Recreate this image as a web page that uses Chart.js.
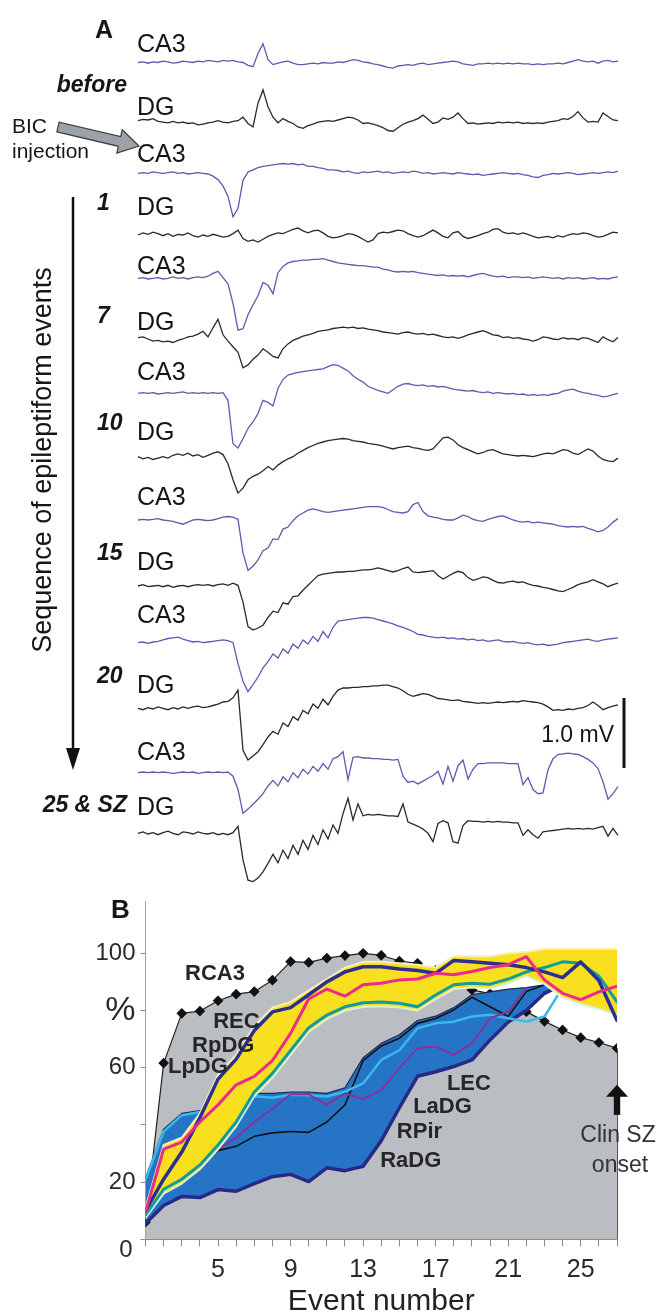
<!DOCTYPE html>
<html>
<head>
<meta charset="utf-8">
<script src="https://cdn.jsdelivr.net/npm/chart.js@4.4.1/dist/chart.umd.min.js"></script>
<style>
  html, body { margin: 0; padding: 0; background: #fff; overflow: hidden; }
  #wrap { position: relative; width: 657px; height: 1314px; }
  #traces { position: absolute; left: 0; top: 0; }
  #summary { position: absolute; left: 0; top: 880px; }
</style>
</head>
<body>
<div id="wrap">
  <canvas id="traces" width="657" height="890"></canvas>
  <canvas id="summary" width="657" height="442"></canvas>
</div>
<script>
const FONT = '"Liberation Sans", Arial, Helvetica, sans-serif';

// ---- Panel A: field potentials (mV, relative to each trace's resting level) ----
const ca3Before = [0,.01,-.01,.01,0,.02,.01,-.01,0,.02,
  .01,0,.02,.01,.03,.02,.01,.03,.02,.03,
  .01,0,-.04,-.06,.13,.27,.04,-.03,-.01,.01,
  .02,-.01,-.03,-.03,-.02,-.01,-.02,0,-.01,-.01,
  .01,0,.02,.04,.03,.01,0,-.02,-.03,-.05,
  -.07,-.08,-.05,-.04,-.03,-.04,-.02,-.01,-.03,-.02,
  -.01,0,.01,.02,.01,-.02,-.03,-.04,-.02,-.02,
  -.01,-.02,-.01,-.02,-.01,-.02,-.01,-.02,-.02,-.03,
  -.02,-.03,-.02,-.02,-.01,-.02,0,.02,.04,.02,
  .01,.02,-.01,.02,.03,.01,.02];
const dgBefore = [0,.02,.01,.03,-.01,-.02,-.03,-.01,-.03,-.02,
  -.04,-.03,-.06,-.05,-.03,-.02,0,-.02,-.03,-.01,
  0,.05,-.04,-.09,.25,.44,.2,.05,-.03,.03,
  -.01,-.04,-.09,-.11,-.07,-.05,-.02,-.01,0,-.01,
  .01,.03,.05,.04,.01,-.04,-.03,-.05,-.07,-.1,
  -.14,-.15,-.1,-.05,-.02,0,.03,.08,.02,-.04,
  -.02,.04,.02,.05,.11,.03,-.04,-.03,-.05,-.04,
  -.03,-.04,-.02,-.03,-.02,-.03,-.02,-.04,-.03,-.04,
  -.03,-.04,-.02,-.01,0,.03,.02,.06,.13,.04,
  -.02,-.01,-.02,.11,.06,.01,0];
const ca3Event1 = [0,.01,0,.02,.01,0,.01,.02,0,.01,
  -.01,0,.01,0,-.01,-.04,-.09,-.18,-.33,-.62,
  -.5,-.1,.02,.05,.08,.1,.11,.12,.13,.14,
  .13,.14,.12,.13,.1,.1,.08,.07,.05,.05,
  .04,.02,.03,.01,0,.02,.01,.02,.03,.01,
  .02,0,.01,.02,.01,.03,.02,0,.01,-.01,
  0,.01,0,-.01,.01,0,-.01,-.02,-.01,-.03,
  -.02,-.01,0,.01,0,-.01,0,-.02,-.03,-.05,
  -.06,-.03,-.02,0,-.01,0,.01,0,-.02,-.01,
  0,.01,0,.01,.02,.01,.03];
const dgEvent1 = [0,.03,.01,.04,.02,-.01,.02,-.02,.01,0,
  .03,-.01,-.03,0,-.02,.01,-.01,-.03,-.02,.02,
  .07,-.05,-.09,-.07,-.1,-.06,-.02,.01,.03,.02,
  .05,.08,.1,.06,.03,.06,.07,.03,-.02,-.04,
  -.03,-.01,.02,.01,-.02,-.06,-.1,-.07,.02,.04,
  .03,.05,.07,.06,.02,-.01,-.03,-.01,.03,.07,
  .03,-.02,-.04,.03,.05,-.02,-.05,-.03,-.01,.02,
  .04,.08,.09,.04,.02,.03,.01,.03,.01,-.02,
  -.04,-.03,-.02,-.04,-.01,-.03,0,.02,.01,.03,
  .02,-.01,-.03,-.02,.01,.04,.03];
const ca3Event7 = [0,.01,-.01,0,.01,-.01,0,.02,0,.01,
  -.01,.01,.02,.01,.03,.07,.1,.01,-.08,-.36,
  -.74,-.72,-.52,-.38,-.25,-.06,-.1,-.22,.08,.17,
  .22,.24,.25,.26,.26,.27,.27,.28,.26,.24,
  .22,.21,.2,.19,.18,.18,.17,.16,.16,.13,
  .12,.1,.09,.1,.09,.1,.08,.07,.06,.05,
  .04,.05,.03,.04,.03,.04,.02,.04,.06,.07,
  .05,.03,.02,.03,.01,.02,.02,.01,.02,0,
  .01,.02,.01,0,.01,-.01,.01,0,.01,-.01,
  0,.01,-.01,0,-.01,.01,.02];
const dgEvent7 = [.01,.02,-.01,-.04,-.03,-.05,-.04,-.06,-.03,-.01,
  .02,.03,.06,.1,.02,.15,.27,.05,-.04,-.12,
  -.2,-.42,-.38,-.3,-.24,-.15,-.2,-.26,-.28,-.15,
  -.08,-.03,0,.03,.05,.07,.1,.11,.12,.14,
  .15,.16,.15,.16,.14,.15,.13,.12,.11,.09,
  .08,.07,.06,.08,.09,.07,.06,.07,.05,.06,
  .04,.02,.01,.02,0,.02,.05,.07,.09,.11,
  .08,.05,.04,.01,.02,0,.01,-.01,-.02,-.04,
  -.02,.02,.01,-.01,-.02,.01,-.01,0,-.02,.01,
  0,-.03,-.06,.02,-.02,-.05,.01];
const ca3Event10 = [0,.01,0,.01,-.01,0,.01,0,.01,.02,
  0,.01,0,.01,0,.01,0,.01,-.1,-.72,
  -.78,-.65,-.5,-.41,-.29,-.1,-.13,-.18,.07,.2,
  .26,.28,.3,.31,.32,.33,.34,.35,.38,.41,
  .4,.36,.32,.25,.2,.16,.1,.07,.04,.02,
  0,.05,.1,.13,.14,.12,.11,.12,.1,.11,
  .09,.1,.08,.06,.05,.04,.03,.04,.02,.01,
  .02,0,.01,0,-.01,0,-.02,-.01,-.03,-.02,
  -.03,-.02,-.03,-.01,0,.03,.05,.06,.03,.01,
  0,-.02,-.03,-.05,-.04,-.02,0];
const dgEvent10 = [0,-.03,-.01,-.04,-.02,0,-.02,.02,.04,.02,
  .05,.01,.03,-.01,.02,.05,.07,.03,-.1,-.33,
  -.52,-.45,-.33,-.28,-.25,-.2,-.14,-.19,-.12,-.07,
  -.03,0,.05,.09,.13,.16,.19,.21,.23,.24,
  .25,.26,.25,.23,.22,.21,.19,.18,.17,.15,
  .13,.11,.13,.14,.15,.13,.12,.1,.09,.11,
  .19,.27,.28,.24,.17,.13,.1,.07,.04,.06,
  .09,.1,.07,.04,.03,.02,.01,.02,.01,0,
  .02,.04,.05,.04,.07,.1,.09,.05,.03,.07,
  .11,.08,.01,-.04,-.06,-.07,-.02];
const ca3Event15 = [0,.01,0,.01,.02,0,-.01,-.02,-.04,-.06,
  -.03,0,.01,0,-.01,0,.02,.04,.05,.04,
  .01,-.47,-.72,-.66,-.57,-.44,-.4,-.27,-.28,-.13,
  -.1,-.01,.06,.1,.14,.16,.14,.12,.11,.12,
  .13,.14,.15,.16,.17,.18,.19,.19,.19,.18,
  .15,.12,.11,.1,.12,.22,.25,.12,.06,.04,
  .03,.01,0,0,.03,.07,.05,.01,-.01,-.02,
  .01,.03,.05,.06,.03,0,-.02,-.03,-.02,-.04,
  -.03,-.04,-.05,-.06,-.08,-.09,-.1,-.09,-.1,-.09,
  -.12,-.14,-.17,-.15,-.1,-.03,.02];
const dgEvent15 = [0,.02,-.01,0,.01,-.01,.01,-.02,0,.01,
  -.01,.01,.02,.01,.02,0,.02,.03,.01,.04,
  .01,-.23,-.58,-.63,-.6,-.56,-.45,-.36,-.38,-.24,
  -.26,-.15,-.14,-.06,.01,.08,.15,.17,.18,.19,
  .2,.2,.21,.21,.22,.23,.23,.24,.26,.24,
  .22,.2,.22,.25,.27,.2,.19,.2,.21,.22,
  .15,.1,.14,.18,.21,.19,.12,.08,.1,.13,
  .12,.08,.05,.04,.06,.07,.05,.06,.03,.01,
  0,-.02,-.03,-.05,-.07,-.08,-.05,-.02,.02,.04,
  .06,.09,.06,.03,-.01,.02,.04];
const ca3Event20 = [0,.01,-.01,.01,.02,.04,.06,.07,.08,.05,
  .03,.01,.02,0,.01,.02,.03,.04,.03,0,
  -.3,-.55,-.7,-.6,-.49,-.36,-.27,-.16,-.22,-.09,
  -.15,-.02,-.08,.04,-.02,.09,.02,.16,.07,.22,
  .31,.32,.33,.34,.35,.36,.36,.35,.33,.31,
  .29,.27,.24,.22,.19,.16,.12,.11,.09,.08,
  .07,.08,.06,.07,.05,.06,.04,.05,.03,.04,
  .02,.03,.04,.02,.01,.02,0,-.01,0,-.02,
  -.03,-.02,-.04,-.03,-.02,0,.01,.02,.03,.04,
  .05,.03,.02,.04,.05,.06,.07];
const dgEvent20 = [0,-.02,.01,-.01,.02,0,-.02,.01,-.01,.02,
  0,.02,.03,.01,.02,.04,.06,.09,.1,.15,
  .26,-.6,-.74,-.68,-.62,-.52,-.41,-.33,-.37,-.21,
  -.26,-.12,-.17,-.03,-.08,.06,0,.13,.05,.17,
  .26,.29,.29,.3,.3,.31,.31,.32,.32,.33,
  .33,.31,.29,.25,.2,.17,.19,.21,.2,.17,
  .14,.13,.12,.11,.12,.1,.09,.08,.07,.08,
  .07,.08,.09,.08,.09,.1,.09,.11,.1,.09,
  .08,.06,.02,-.03,-.02,-.03,-.01,-.02,0,.01,
  .04,.09,.04,-.02,.01,.03,.05];
const ca3Event25 = [0,.01,0,.01,0,.01,0,-.01,0,.01,
  0,.01,-.01,0,.01,0,.01,0,.01,-.05,
  -.24,-.58,-.52,-.45,-.38,-.3,-.19,-.11,-.19,-.06,
  -.13,0,-.07,.05,-.02,.09,.02,.13,.05,.2,
  .23,.3,-.1,.22,.23,.21,.21,.2,.2,.19,
  .19,.18,.19,-.05,-.14,-.12,-.16,-.12,-.08,-.04,
  .02,-.16,.09,-.12,.1,.18,-.09,.05,.13,.13,
  .14,.14,.14,.14,.13,.13,.13,-.17,-.07,-.24,
  -.3,-.29,.04,.2,.26,.27,.28,.27,.26,.23,
  .19,.14,.06,-.13,-.38,-.3,-.2];
const dgEvent25 = [0,.02,-.01,.01,-.02,.01,.03,0,-.02,.02,
  .01,-.01,.02,0,-.01,.01,-.02,0,-.02,.01,
  .1,-.38,-.67,-.69,-.64,-.55,-.43,-.3,-.42,-.24,
  -.36,-.17,-.3,-.1,-.23,-.03,-.16,.05,-.08,.12,
  0,.28,.5,.19,.42,.25,.27,.26,.27,.26,
  .25,.25,.24,.42,.16,.13,.1,.06,0,-.12,
  .14,.18,.15,-.12,-.14,.11,.18,.17,.17,.16,
  .17,.16,.17,.16,.16,.15,.15,-.03,.05,-.02,
  -.07,.02,.03,.04,.05,.06,.07,.06,.07,.06,
  .07,.06,.08,.1,-.04,.07,-.03];

const eventLabels = ['before', '1', '7', '10', '15', '20', '25 & SZ'];
const channelNames = ['CA3', 'DG'];
const scaleBarMv = 1.0;

// ---- Panel B: % of recording sites involved, per epileptiform event ----
const eventTickSlots = [4, 8, 12, 16, 20, 24];
const eventTickLabels = ['5', '9', '13', '17', '21', '25'];
const yTickLabels = { 20: '20', 60: '60', 80: '%', 100: '100' };

const rca3 = [6, 61.6, 79, 79.8, 83.4, 85.7, 86.6, 90.6, 97.1, 96.8, 98.3, 99.2, 100, 99.3, 97.3, 96.5, 94, 89, 87.2, 85.9, 83, 79.6, 76.2, 73.2, 70.5, 68.8, 66.8];
const rec = [10, 21, 30.5, 42.5, 56, 63, 73, 79.5, 81, 85.5, 90, 93.5, 95.3, 95.3, 94.5, 94, 93, 97.5, 97, 96.5, 96, 95, 93.5, 91.5, 97, 90.5, 76.5];
const rpdg = [9.5, 31.5, 34, 41, 47, 54, 57, 62.5, 72, 84, 87.5, 85, 89, 89.5, 90.7, 91, 93, 92.5, 93.6, 95, 96, 98.8, 90.7, 86, 83.8, 86.5, 88.5];
const lpdg = [8.5, 17.5, 21, 26, 33, 41, 51.5, 58, 66, 74, 78.4, 81.3, 82.7, 83, 82.5, 81.3, 85.4, 89, 89.5, 89.2, 91, 93.5, 95, 97, 96.5, 92, 83];
const pdgBandTop = [11, 33, 35.5, 44, 57.5, 64.5, 74.5, 81, 83, 87, 91, 95, 97, 97, 96.5, 96, 95, 99, 99, 99, 100, 100.5, 101.5, 101.5, 101.5, 101.5, 101.5];
const pdgBandBottom = [7.5, 16, 19.5, 24.5, 31.5, 39.5, 50, 56.5, 64.5, 72.5, 77, 80, 81.2, 81.5, 81, 80, 84, 87.5, 88, 87.7, 89.5, 92, 89.2, 84.5, 82.3, 80.5, 78.5];
const lec = [20.8, 37.7, 43.4, 44.5, 46, 47.5, 50, 49.5, 50.5, 50.4, 49.9, 51.6, 54.5, 62.7, 66.1, 73.8, 75.5, 76.1, 77.9, 78.5, 77.3, 76.1, 77.9, 88, null, null, null];
const ladg = [null, null, null, 26, 31.5, 35.5, 41, 45.6, 50.7, 50.7, 47, 51, 49, 52.2, 59.8, 66.8, 67.4, 64.5, 68.5, 77.3, 79.5, 88, null, null, null, null, null];
const rpir = [null, null, null, 26, 31, 32.5, 36, 37.2, 37.7, 37.4, 41, 47, 62.5, 67.6, 70.3, 75.5, 77.2, 80.2, 84.6, 81.3, 77.9, 86.6, 89, null, null, null, null];
const radg = [5.5, 11.8, 15, 14.6, 17.4, 16.8, 19.5, 21.9, 22.7, 20.2, 25, 24, 25.5, 34.5, 46, 57, 58.6, 60.4, 62.7, 69.7, 76, 80, 86, 89, null, null, null];
const adgBandTop = [21.5, 38.5, 44, 45, 47, 48.5, 51, 51, 51.5, 51.5, 51, 53, 63.5, 68.5, 71.5, 76.5, 78, 81, 85.5, 86.5, 87.5, 88, 89, 89, null, null, null];

const clinOnsetEvent = 26;

// ---------------- Panel A chart ----------------
const PX_PER_MV = 70;
const traceCanvas = document.getElementById('traces');
const traceSeries = [ca3Before, dgBefore, ca3Event1, dgEvent1, ca3Event7, dgEvent7, ca3Event10, dgEvent10,
  ca3Event15, dgEvent15, ca3Event20, dgEvent20, ca3Event25, dgEvent25];
// resting row of each trace on the page (px from the top)
const traceRows = [62.5, 120.7, 173.3, 235, 278.3, 338.3, 393.3, 456.7, 520, 586, 642.7, 708.3, 772.7, 833.3];
const channelLabelRows = [52, 115, 162, 215, 274, 330, 380, 440, 505, 570, 623, 693, 760, 815];
const eventLabelRows = [92, 210, 323, 430, 560, 683, 812];

const traceDatasets = traceSeries.map((vals, t) => {
  const rest = -traceRows[t] / PX_PER_MV;
  return {
    data: vals.map((v, k) => ({ x: k / (vals.length - 1), y: rest + v })),
    borderColor: t % 2 === 0 ? '#5b5cae' : '#2a2a2a',
    borderWidth: 1.3,
    pointRadius: 0,
    tension: 0,
    clip: false,
  };
});

const traceDecor = {
  id: 'traceDecor',
  afterDraw(chart) {
    const { ctx } = chart;
    const yScale = chart.scales.y;
    ctx.save();
    ctx.fillStyle = '#161616';
    ctx.textBaseline = 'alphabetic';

    ctx.font = `bold 25px ${FONT}`;
    ctx.fillText('A', 95, 38);

    ctx.font = `25px ${FONT}`;
    channelLabelRows.forEach((row, i) => ctx.fillText(channelNames[i % 2], 137, row));

    ctx.font = `italic bold 23px ${FONT}`;
    eventLabels.forEach((txt, i) => {
      const wide = txt.length > 2;
      ctx.textAlign = wide ? 'right' : 'left';
      ctx.fillText(txt, wide ? 127 : 97, eventLabelRows[i]);
    });
    ctx.textAlign = 'left';

    ctx.font = `21px ${FONT}`;
    ctx.fillText('BIC', 12, 133);
    ctx.fillText('injection', 12, 158);

    // BIC injection arrow
    const tail = [58, 127], tip = [139, 146];
    const dx = tip[0] - tail[0], dy = tip[1] - tail[1];
    const len = Math.hypot(dx, dy);
    const ux = dx / len, uy = dy / len, nx = -uy, ny = ux;
    const neck = [tip[0] - ux * 20, tip[1] - uy * 20];
    const sw = 5, hw = 12;
    ctx.beginPath();
    ctx.moveTo(tail[0] + nx * sw, tail[1] + ny * sw);
    ctx.lineTo(neck[0] + nx * sw, neck[1] + ny * sw);
    ctx.lineTo(neck[0] + nx * hw, neck[1] + ny * hw);
    ctx.lineTo(tip[0], tip[1]);
    ctx.lineTo(neck[0] - nx * hw, neck[1] - ny * hw);
    ctx.lineTo(neck[0] - nx * sw, neck[1] - ny * sw);
    ctx.lineTo(tail[0] - nx * sw, tail[1] - ny * sw);
    ctx.closePath();
    ctx.fillStyle = '#9da2a9';
    ctx.fill();
    ctx.strokeStyle = '#3c3c3c';
    ctx.lineWidth = 1.2;
    ctx.stroke();

    // sequence arrow
    ctx.strokeStyle = '#111';
    ctx.lineWidth = 2.5;
    ctx.beginPath();
    ctx.moveTo(73, 197);
    ctx.lineTo(73, 752);
    ctx.stroke();
    ctx.fillStyle = '#111';
    ctx.beginPath();
    ctx.moveTo(66, 748);
    ctx.lineTo(80, 748);
    ctx.lineTo(73, 770);
    ctx.closePath();
    ctx.fill();

    ctx.save();
    ctx.translate(44, 460);
    ctx.rotate(-Math.PI / 2);
    ctx.font = `27px ${FONT}`;
    ctx.textAlign = 'center';
    ctx.textBaseline = 'middle';
    ctx.fillStyle = '#161616';
    ctx.fillText('Sequence of epileptiform events', 0, 0);
    ctx.restore();

    // 1.0 mV calibration bar
    const barBottom = 768;
    const barTop = yScale.getPixelForValue(yScale.getValueForPixel(barBottom) + scaleBarMv);
    ctx.strokeStyle = '#111';
    ctx.lineWidth = 3;
    ctx.beginPath();
    ctx.moveTo(624, barTop);
    ctx.lineTo(624, barBottom);
    ctx.stroke();
    ctx.font = `23px ${FONT}`;
    ctx.textAlign = 'right';
    ctx.fillStyle = '#161616';
    ctx.fillText(`${scaleBarMv.toFixed(1)} mV`, 614, 742);
    ctx.restore();
  },
};

new Chart(traceCanvas, {
  type: 'line',
  data: { datasets: traceDatasets },
  options: {
    responsive: false,
    animation: false,
    events: [],
    layout: { padding: { left: 138, right: 39, top: 0, bottom: 0 } },
    plugins: { legend: { display: false }, tooltip: { enabled: false } },
    scales: {
      x: { type: 'linear', min: 0, max: 1, display: false },
      y: { type: 'linear', min: -traceCanvas.height / PX_PER_MV, max: 0, display: false },
    },
  },
  plugins: [traceDecor],
});

// ---------------- Panel B chart ----------------
const asPoints = (arr) => arr.map((v, i) => ({ x: i, y: v }));

const regionLabels = [
  { text: 'RCA3', x: 2.18, y: 90.8 },
  { text: 'REC', x: 3.73, y: 73.8 },
  { text: 'RpDG', x: 2.57, y: 65.6 },
  { text: 'LpDG', x: 1.24, y: 58.1 },
  { text: 'LEC', x: 16.62, y: 52.2 },
  { text: 'LaDG', x: 14.76, y: 44.1 },
  { text: 'RPir', x: 13.86, y: 35.4 },
  { text: 'RaDG', x: 12.94, y: 25.3 },
];

const summaryDecor = {
  id: 'summaryDecor',
  afterDraw(chart) {
    const { ctx } = chart;
    const xs = chart.scales.x, ys = chart.scales.y;
    ctx.save();

    // right edge of the RCA3 area
    const last = rca3.length - 1;
    ctx.strokeStyle = '#555';
    ctx.lineWidth = 1;
    ctx.beginPath();
    ctx.moveTo(xs.getPixelForValue(last) + 0.5, ys.getPixelForValue(rca3[last]));
    ctx.lineTo(xs.getPixelForValue(last) + 0.5, ys.getPixelForValue(0));
    ctx.stroke();

    // the zero label sits a little below the axis line
    ctx.fillStyle = '#2a2a2a';
    ctx.font = `24px ${FONT}`;
    ctx.textAlign = 'right';
    ctx.textBaseline = 'middle';
    ctx.fillText('0', xs.left - 13, ys.getPixelForValue(0) + 11);

    ctx.textAlign = 'left';
    ctx.textBaseline = 'alphabetic';
    ctx.fillStyle = '#262626';
    ctx.font = `bold 22px ${FONT}`;
    regionLabels.forEach((l) => ctx.fillText(l.text, xs.getPixelForValue(l.x), ys.getPixelForValue(l.y)));

    // clinical seizure onset arrow
    const ax = xs.getPixelForValue(clinOnsetEvent);
    const tipY = ys.getPixelForValue(54), neckY = ys.getPixelForValue(49.8), baseY = ys.getPixelForValue(43.5);
    ctx.fillStyle = '#111';
    ctx.fillRect(ax - 3.2, neckY - 1, 6.4, baseY - neckY + 1);
    ctx.beginPath();
    ctx.moveTo(ax - 11, neckY);
    ctx.lineTo(ax + 11, neckY);
    ctx.lineTo(ax, tipY);
    ctx.closePath();
    ctx.fill();

    ctx.fillStyle = '#333';
    ctx.font = `23px ${FONT}`;
    ctx.textAlign = 'center';
    ctx.fillText('Clin SZ', ax + 1, ys.getPixelForValue(34.1));
    ctx.fillText('onset', ax + 3, ys.getPixelForValue(23.6));

    ctx.textAlign = 'left';
    ctx.fillStyle = '#161616';
    ctx.font = `bold 26px ${FONT}`;
    ctx.fillText('B', 111, 38);
    ctx.restore();
  },
};

const lineSet = (label, data, color, width, order) => ({
  label, data: asPoints(data), borderColor: color, borderWidth: width,
  pointRadius: 0, tension: 0, fill: false, order,
  borderJoinStyle: 'round', borderCapStyle: 'round', spanGaps: false,
});

const summaryDatasets = [
  lineSet('RpDG', rpdg, '#ec2a8b', 3, 1),
  lineSet('REC', rec, '#2d2f90', 3.5, 1),
  lineSet('LpDG', lpdg, '#109c9c', 3, 1),
  lineSet('pDG band low', pdgBandBottom, '#dcefd8', 2, 2),
  { ...lineSet('pDG band', pdgBandTop, '#f4efbc', 2, 2), fill: { target: 3 }, backgroundColor: '#f8e01f' },
  lineSet('LaDG', ladg, '#8c2d9a', 1.8, 3),
  lineSet('LEC', lec, '#38baec', 2.5, 3),
  lineSet('RPir', rpir, '#111', 1.6, 3),
  lineSet('RaDG', radg, '#262a86', 3.5, 3),
  { ...lineSet('aDG band', adgBandTop, '#1e2750', 1.2, 4), fill: { target: 8 }, backgroundColor: '#2674c5' },
  {
    ...lineSet('RCA3', rca3, '#222', 1.2, 5),
    fill: 'origin', backgroundColor: '#babdc2',
    pointRadius: 4.5, pointStyle: 'rectRot', pointBackgroundColor: '#111', pointBorderColor: '#111',
  },
];

new Chart(document.getElementById('summary'), {
  type: 'line',
  data: { datasets: summaryDatasets },
  options: {
    responsive: false,
    animation: false,
    events: [],
    layout: { padding: { left: 0, right: 40, top: 21.8, bottom: 0 } },
    plugins: { legend: { display: false }, tooltip: { enabled: false } },
    scales: {
      x: {
        type: 'linear', min: 0, max: 26,
        afterFit: (s) => { s.height = 82.7; },
        grid: { drawOnChartArea: false, tickLength: 7, color: '#8a8a8a' },
        border: { color: '#8a8a8a' },
        ticks: {
          stepSize: 1, autoSkip: false, maxRotation: 0, minRotation: 0, padding: 9,
          color: '#2a2a2a', font: { size: 25, family: FONT },
          callback: (v) => {
            const j = eventTickSlots.indexOf(v);
            return j >= 0 ? eventTickLabels[j] : '';
          },
        },
        title: { display: true, text: 'Event number', color: '#222', font: { size: 30, family: FONT }, padding: { top: 0, bottom: 2 } },
      },
      y: {
        type: 'linear', min: 0, max: 118,
        afterFit: (s) => { s.width = 145.5; },
        grid: { drawOnChartArea: false, tickLength: 5, color: '#8a8a8a' },
        border: { color: '#a0a0a0' },
        ticks: {
          stepSize: 20, includeBounds: false, padding: 5, color: '#2a2a2a',
          font: (c) => ({ size: c.tick && c.tick.value === 80 ? 34 : 24, family: FONT }),
          callback: (v) => yTickLabels[v] ?? '',
        },
      },
    },
  },
  plugins: [summaryDecor],
});
</script>
</body>
</html>
